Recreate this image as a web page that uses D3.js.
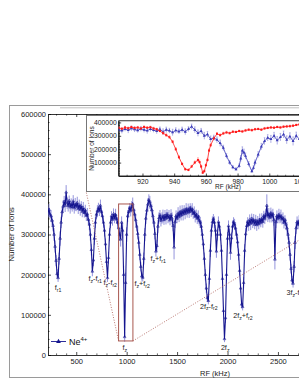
<!DOCTYPE html>
<html>
<head>
<meta charset="utf-8">
<script src="https://cdn.jsdelivr.net/npm/d3@7"></script>
<style>
  body { margin: 0; background: #fff; }
  svg { display: block; font-family: "Liberation Sans", Arial, sans-serif; }
</style>
</head>
<body>
<svg id="chart" width="299" height="387"></svg>
<script>
// wide RF scan, rows are [RF kHz, ions (thousands), error (thousands)]
const mainScan = [
  [220,355,12],[230,362,14],[240,350,10],[250,346,15],[260,335,12],[270,322,14],[280,300,16],[290,270,15],[300,235,14],[310,202,12],
  [320,192,10],[330,240,15],[340,290,18],[350,330,14],[360,356,12],[370,370,15],[380,382,14],[390,372,16],[400,405,18],[410,378,14],
  [420,372,15],[430,384,13],[440,368,16],[450,376,14],[460,369,12],[470,383,15],[480,366,14],[490,375,16],[500,370,12],[510,379,15],
  [520,364,13],[530,373,14],[540,362,15],[550,371,12],[560,357,14],[570,366,15],[580,354,12],[590,360,14],[600,347,13],[610,351,15],
  [620,337,12],[630,325,14],[640,300,15],[650,262,14],[660,208,12],[670,236,15],[680,290,16],[690,330,14],[700,350,12],[710,358,15],
  [720,366,13],[730,360,14],[740,372,15],[750,356,12],[760,346,14],[770,330,13],[780,310,15],[790,276,14],[800,232,12],[810,192,10],
  [820,242,15],[830,300,16],[840,330,14],[850,346,12],[860,337,15],[870,351,14],[880,341,13],[890,349,15],[900,339,12],[910,330,14],
  [920,316,15],[930,300,16],[940,288,18],[950,330,15],[960,310,20],[970,200,22],[980,45,12],[990,180,25],[1000,300,18],[1010,346,15],
  [1020,356,14],[1030,366,12],[1040,360,15],[1050,369,14],[1060,376,16],[1070,361,13],[1080,350,14],[1090,336,15],[1100,320,12],[1110,302,14],
  [1120,280,15],[1130,250,14],[1140,220,12],[1150,196,11],[1160,193,10],[1170,240,15],[1180,300,16],[1190,340,14],[1200,360,12],[1210,375,15],
  [1220,386,14],[1230,380,16],[1240,371,13],[1250,361,14],[1260,346,15],[1270,330,12],[1280,302,14],[1290,258,13],[1300,272,15],[1310,320,16],
  [1320,341,14],[1330,349,12],[1340,335,15],[1350,341,14],[1360,346,16],[1370,337,13],[1380,347,14],[1390,340,15],[1400,351,12],[1410,342,14],
  [1420,346,15],[1430,336,13],[1440,349,14],[1450,340,15],[1460,322,14],[1470,268,30],[1480,331,15],[1490,346,14],[1500,340,12],[1510,353,15],
  [1520,345,14],[1530,356,16],[1540,348,13],[1550,359,14],[1560,350,15],[1570,361,12],[1580,352,14],[1590,363,15],[1600,355,13],[1610,363,14],
  [1620,356,15],[1630,366,12],[1640,358,14],[1650,363,15],[1660,352,13],[1670,356,14],[1680,345,15],[1690,350,12],[1700,340,14],[1710,345,15],
  [1720,335,13],[1730,330,14],[1740,320,15],[1750,300,14],[1760,276,12],[1770,240,15],[1780,200,14],[1790,166,12],[1800,142,10],[1810,135,9],
  [1820,190,14],[1830,260,16],[1840,310,15],[1850,331,14],[1860,339,12],[1870,330,15],[1880,310,14],[1890,258,16],[1900,300,15],[1910,331,14],
  [1920,320,12],[1930,300,15],[1940,260,14],[1950,190,12],[1960,110,10],[1970,40,8],[1980,92,12],[1990,200,15],[2000,290,16],[2010,321,14],
  [2020,300,15],[2030,255,18],[2040,291,14],[2050,320,15],[2060,331,12],[2070,325,14],[2080,316,15],[2090,300,13],[2100,281,14],[2110,250,15],
  [2120,210,12],[2130,166,11],[2140,126,10],[2150,120,9],[2160,180,14],[2170,260,16],[2180,301,15],[2190,321,14],[2200,331,12],[2210,324,15],
  [2220,336,14],[2230,327,16],[2240,339,13],[2250,330,14],[2260,336,15],[2270,325,12],[2280,335,14],[2290,324,15],[2300,333,13],[2310,327,14],
  [2320,337,15],[2330,330,12],[2340,339,14],[2350,332,15],[2360,346,13],[2370,340,14],[2380,349,15],[2390,372,28],[2400,345,14],[2410,351,15],
  [2420,342,12],[2430,353,14],[2440,345,15],[2450,351,13],[2460,336,14],[2470,238,25],[2480,331,15],[2490,346,14],[2500,340,12],[2510,349,15],
  [2520,342,14],[2530,346,16],[2540,338,13],[2550,341,14],[2560,330,15],[2570,336,12],[2580,325,14],[2590,316,15],[2600,300,13],[2610,280,14],
  [2620,250,15],[2630,215,12],[2640,186,11],[2650,178,10],[2660,220,14],[2670,280,16],[2680,316,15],[2690,331,14],[2700,325,12],[2710,333,15],
  [2720,328,14]
];

// zoomed scans around f_z, same row layout
const insetBlue = [
  [905,345,18],[907,338,20],[909,350,16],[911,342,22],[913,355,18],[915,348,20],[917,340,16],[919,352,18],[921,345,20],[923,338,22],
  [925,350,18],[927,342,16],[929,335,20],[931,348,18],[933,330,22],[935,345,20],[937,338,18],[939,325,24],[941,340,20],[943,332,18],
  [945,345,20],[947,330,22],[949,350,18],[951,368,20],[953,345,22],[955,320,24],[957,335,20],[959,300,26],[961,310,22],[963,275,24],
  [965,285,20],[967,270,22],[969,245,24],[971,210,20],[973,150,18],[975,100,16],[977,65,14],[979,50,12],[981,75,16],[982,130,22],
  [983,190,28],[984,175,26],[985,150,22],[987,90,18],[989,35,12],[990,60,16],[991,100,20],[993,160,22],[995,220,24],[997,260,26],
  [999,285,24],[1001,275,28],[1003,300,26],[1005,265,30],[1007,290,28],[1009,310,26],[1011,270,30],[1013,295,28],[1015,260,32],[1017,300,28],
  [1019,275,30],[1021,290,28]
];
const insetRed = [
  [905,360,8],[907,352,8],[909,362,9],[911,356,8],[913,365,8],[915,358,9],[917,362,8],[919,355,8],[921,366,9],[923,360,8],
  [925,364,8],[927,355,9],[929,348,8],[931,335,9],[933,320,9],[935,305,10],[937,290,10],[939,255,10],[941,200,12],[943,140,12],
  [945,90,10],[947,50,9],[949,45,9],[951,70,10],[953,100,12],[955,120,16],[956,105,14],[957,70,12],[958,25,9],[959,35,9],
  [960,80,10],[961,120,12],[962,190,12],[963,230,12],[965,280,10],[967,315,10],[969,305,9],[971,318,9],[973,325,9],[975,320,8],
  [977,330,8],[979,328,8],[981,335,8],[983,332,8],[985,340,8],[987,345,8],[989,342,8],[991,348,8],[993,350,8],[995,346,8],
  [997,355,8],[999,358,8],[1001,362,8],[1003,360,8],[1005,365,8],[1007,362,8],[1009,368,8],[1011,370,8],[1013,372,8],[1015,375,8],
  [1017,380,8],[1019,385,8],[1021,382,8]
];

const mainXTicks = [500, 1000, 1500, 2000, 2500];
const mainYTicks = [0, 100000, 200000, 300000, 400000, 500000, 600000];
const insetXTicks = [920, 940, 960, 980, 1000, 1020];
const insetYTicks = [100000, 200000, 300000, 400000];

// region of the main scan shown in the inset
const zoomBox = { rf0: 920, rf1: 1062, ions0: 35000, ions1: 376000 };

// resonance labels: parts starting with "_" are subscripts
const peakLabels = [
  { parts: ["f", "_r1"], rf: 321, ions: 162000 },
  { parts: ["f", "_z", "-f", "_r1"], rf: 688, ions: 184000 },
  { parts: ["f", "_z", "-f", "_r2"], rf: 837, ions: 174000 },
  { parts: ["f", "_z"], rf: 981, ions: 12000 },
  { parts: ["f", "_z", "+f", "_r2"], rf: 1154, ions: 172000 },
  { parts: ["f", "_z", "+f", "_r1"], rf: 1313, ions: 234000 },
  { parts: ["2f", "_z", "-f", "_r2"], rf: 1814, ions: 115000 },
  { parts: ["2f", "_z"], rf: 1977, ions: 12000 },
  { parts: ["2f", "_z", "+f", "_r2"], rf: 2153, ions: 92000 },
  { parts: ["3f", "_z", "-f", "_r1"], rf: 2672, ions: 149000 }
];

const BLUE = "#15158f";
const BLUE_ERR = "#7474d2";
const RED = "#ff1a1a";
const BOX = "#a8574f";

const svg = d3.select("#chart");

// outer figure frame
svg.append("rect")
  .attr("x", 9.5).attr("y", 105.5)
  .attr("width", 340).attr("height", 272)
  .attr("fill", "none").attr("stroke", "#9a9a9a").attr("stroke-width", 1);
svg.append("line")
  .attr("x1", 60).attr("x2", 299).attr("y1", 107.8).attr("y2", 107.8)
  .attr("stroke", "#b0b0b0").attr("stroke-width", 0.8);

// ---------- main plot ----------
const x = d3.scaleLinear().domain([220, 3532]).range([48, 382]);
const y = d3.scaleLinear().domain([0, 600000]).range([355, 114]);

svg.append("clipPath").attr("id", "mainClip")
  .append("rect").attr("x", 48).attr("y", 114).attr("width", 334).attr("height", 241);

const minorX = d3.range(300, 3600, 100).filter((v) => v % 500 !== 0);
const minorY = d3.range(20000, 600000, 20000).filter((v) => v % 100000 !== 0);

function styleAxis(g, size) {
  g.selectAll("path").attr("stroke", "#000").attr("stroke-width", 0.8);
  g.selectAll("line").attr("stroke", "#000").attr("stroke-width", 0.7);
  g.selectAll("text").attr("font-size", size).attr("fill", "#222")
    .attr("font-family", "Liberation Sans, Arial, sans-serif");
}

const gx = svg.append("g").attr("transform", "translate(0,355)")
  .call(d3.axisBottom(x).tickValues(mainXTicks).tickFormat(d3.format("d"))
    .tickSizeInner(-3).tickSizeOuter(0).tickPadding(4));
styleAxis(gx, 7.5);
svg.append("g").attr("transform", "translate(0,355)")
  .call(d3.axisBottom(x).tickValues(minorX).tickFormat("").tickSizeInner(-1.6).tickSizeOuter(0))
  .call((g) => { g.select("path").remove(); g.selectAll("line").attr("stroke", "#000").attr("stroke-width", 0.6); });

const gxTop = svg.append("g").attr("transform", "translate(0,114)")
  .call(d3.axisTop(x).tickValues(mainXTicks).tickFormat("").tickSizeInner(-3).tickSizeOuter(0));
styleAxis(gxTop, 7.5);
svg.append("g").attr("transform", "translate(0,114)")
  .call(d3.axisTop(x).tickValues(minorX).tickFormat("").tickSizeInner(-1.6).tickSizeOuter(0))
  .call((g) => { g.select("path").remove(); g.selectAll("line").attr("stroke", "#000").attr("stroke-width", 0.6); });

const gy = svg.append("g").attr("transform", "translate(48,0)")
  .call(d3.axisLeft(y).tickValues(mainYTicks).tickFormat(d3.format("d"))
    .tickSizeInner(-3).tickSizeOuter(0).tickPadding(2));
styleAxis(gy, 7.5);
svg.append("g").attr("transform", "translate(48,0)")
  .call(d3.axisLeft(y).tickValues(minorY).tickFormat("").tickSizeInner(-1.6).tickSizeOuter(0))
  .call((g) => { g.select("path").remove(); g.selectAll("line").attr("stroke", "#000").attr("stroke-width", 0.6); });

svg.append("text").attr("transform", "translate(14,234.5) rotate(-90)")
  .attr("text-anchor", "middle").attr("font-size", 8).attr("fill", "#222")
  .text("Number of Ions");
svg.append("text").attr("x", 215).attr("y", 375.5)
  .attr("text-anchor", "middle").attr("font-size", 7.5).attr("fill", "#222")
  .text("RF (kHz)");

const mainData = svg.append("g").attr("clip-path", "url(#mainClip)");

mainData.selectAll(".err").data(mainScan).enter().append("line")
  .attr("x1", (d) => x(d[0])).attr("x2", (d) => x(d[0]))
  .attr("y1", (d) => y((d[1] - d[2]) * 1000)).attr("y2", (d) => y((d[1] + d[2]) * 1000))
  .attr("stroke", BLUE_ERR).attr("stroke-width", 0.9).attr("opacity", 0.85);

mainData.append("path").datum(mainScan)
  .attr("fill", "none").attr("stroke", BLUE).attr("stroke-width", 1.1)
  .attr("d", d3.line().x((d) => x(d[0])).y((d) => y(d[1] * 1000)));

const tri = d3.symbol().type(d3.symbolTriangle).size(3);
mainData.selectAll(".mk").data(mainScan).enter().append("path")
  .attr("d", tri)
  .attr("transform", (d) => `translate(${x(d[0])},${y(d[1] * 1000)})`)
  .attr("fill", "none").attr("stroke", BLUE).attr("stroke-width", 0.6);

// zoom box on the main scan
svg.append("rect")
  .attr("x", x(zoomBox.rf0)).attr("y", y(zoomBox.ions1))
  .attr("width", x(zoomBox.rf1) - x(zoomBox.rf0))
  .attr("height", y(zoomBox.ions0) - y(zoomBox.ions1))
  .attr("fill", "none").attr("stroke", BOX).attr("stroke-width", 1);

// resonance labels
peakLabels.forEach((lab) => {
  const t = svg.append("text").attr("x", x(lab.rf)).attr("y", y(lab.ions))
    .attr("text-anchor", "middle").attr("font-size", 7.2).attr("fill", "#222");
  let shifted = false;
  lab.parts.forEach((p) => {
    const sub = p.startsWith("_");
    const ts = t.append("tspan").text(sub ? p.slice(1) : p);
    if (sub && !shifted) { ts.attr("dy", 1.6).attr("font-size", 5.2); shifted = true; }
    else if (sub) { ts.attr("font-size", 5.2); }
    else if (shifted) { ts.attr("dy", -1.6); shifted = false; }
  });
});

// legend
svg.append("line").attr("x1", 51).attr("x2", 66).attr("y1", 341.5).attr("y2", 341.5)
  .attr("stroke", BLUE).attr("stroke-width", 0.9);
svg.append("path").attr("d", d3.symbol().type(d3.symbolTriangle).size(10))
  .attr("transform", "translate(58.5,341.5)").attr("fill", BLUE);
const legText = svg.append("text").attr("x", 69).attr("y", 345)
  .attr("font-size", 9).attr("fill", "#111");
legText.append("tspan").text("Ne");
legText.append("tspan").attr("dy", -4).attr("font-size", 6).text("4+");

// ---------- inset ----------
const frame = { x0: 86, y0: 115, x1: 380, y1: 191 };
const ix = d3.scaleLinear().domain([905, 1060]).range([118.7, 364.4]);
const iy = d3.scaleLinear().domain([0, 412000]).range([176, 120.8]);

// guide lines from the zoom box to the inset
svg.append("line")
  .attr("x1", x(zoomBox.rf0)).attr("y1", y(zoomBox.ions0))
  .attr("x2", frame.x0).attr("y2", frame.y1)
  .attr("stroke", BOX).attr("stroke-width", 0.8).attr("stroke-dasharray", "1,1.6");
svg.append("line")
  .attr("x1", x(zoomBox.rf1)).attr("y1", y(zoomBox.ions0))
  .attr("x2", frame.x1).attr("y2", frame.y1)
  .attr("stroke", BOX).attr("stroke-width", 0.8).attr("stroke-dasharray", "1,1.6");

svg.append("rect")
  .attr("x", frame.x0 + 0.5).attr("y", frame.y0 + 0.5)
  .attr("width", frame.x1 - frame.x0).attr("height", frame.y1 - frame.y0)
  .attr("fill", "#fff").attr("stroke", "#777").attr("stroke-width", 1);

svg.append("clipPath").attr("id", "insetClip")
  .append("rect").attr("x", 118.7).attr("y", 120.8).attr("width", 245.7).attr("height", 55.2);

svg.append("rect").attr("x", 118.7).attr("y", 120.8).attr("width", 245.7).attr("height", 55.2)
  .attr("fill", "none").attr("stroke", "#000").attr("stroke-width", 0.8);

const minorIX = d3.range(910, 1060, 5).filter((v) => v % 20 !== 0);
const minorIY = d3.range(20000, 412000, 20000).filter((v) => v % 100000 !== 0);

const igx = svg.append("g").attr("transform", "translate(0,176)")
  .call(d3.axisBottom(ix).tickValues(insetXTicks).tickFormat(d3.format("d"))
    .tickSizeInner(-2.5).tickSizeOuter(0).tickPadding(3));
styleAxis(igx, 6.8);
svg.append("g").attr("transform", "translate(0,176)")
  .call(d3.axisBottom(ix).tickValues(minorIX).tickFormat("").tickSizeInner(-1.3).tickSizeOuter(0))
  .call((g) => { g.select("path").remove(); g.selectAll("line").attr("stroke", "#000").attr("stroke-width", 0.5); });

const igy = svg.append("g").attr("transform", "translate(118.7,0)")
  .call(d3.axisLeft(iy).tickValues(insetYTicks).tickFormat(d3.format("d"))
    .tickSizeInner(-2.5).tickSizeOuter(0).tickPadding(2));
styleAxis(igy, 6.8);
svg.append("g").attr("transform", "translate(118.7,0)")
  .call(d3.axisLeft(iy).tickValues(minorIY).tickFormat("").tickSizeInner(-1.3).tickSizeOuter(0))
  .call((g) => { g.select("path").remove(); g.selectAll("line").attr("stroke", "#000").attr("stroke-width", 0.5); });

svg.append("text").attr("transform", "translate(93.5,148.5) rotate(-90)")
  .attr("text-anchor", "middle").attr("font-size", 6.5).attr("fill", "#222")
  .text("Number of Ions");
svg.append("text").attr("x", 228).attr("y", 189.3)
  .attr("text-anchor", "middle").attr("font-size", 6.5).attr("fill", "#222")
  .text("RF (kHz)");

const insetData = svg.append("g").attr("clip-path", "url(#insetClip)");

function drawInsetSeries(rows, color, errColor, symbolType) {
  insetData.append("g").selectAll("line").data(rows).enter().append("line")
    .attr("x1", (d) => ix(d[0])).attr("x2", (d) => ix(d[0]))
    .attr("y1", (d) => iy((d[1] - d[2]) * 1000)).attr("y2", (d) => iy((d[1] + d[2]) * 1000))
    .attr("stroke", errColor).attr("stroke-width", 0.7);
  insetData.append("g").selectAll("line").data(rows).enter().append("line")
    .attr("x1", (d) => ix(d[0]) - 0.8).attr("x2", (d) => ix(d[0]) + 0.8)
    .attr("y1", (d) => iy((d[1] + d[2]) * 1000)).attr("y2", (d) => iy((d[1] + d[2]) * 1000))
    .attr("stroke", errColor).attr("stroke-width", 0.5);
  insetData.append("path").datum(rows)
    .attr("fill", "none").attr("stroke", color).attr("stroke-width", 0.8)
    .attr("d", d3.line().x((d) => ix(d[0])).y((d) => iy(d[1] * 1000)));
  const sym = d3.symbol().type(symbolType).size(4);
  insetData.append("g").selectAll("path").data(rows).enter().append("path")
    .attr("d", sym)
    .attr("transform", (d) => `translate(${ix(d[0])},${iy(d[1] * 1000)})`)
    .attr("fill", color);
}

drawInsetSeries(insetBlue, "#3a3ab8", "#8a8ad8", d3.symbolTriangle);
drawInsetSeries(insetRed, RED, "#ff7070", d3.symbolSquare);
</script>
</body>
</html>
